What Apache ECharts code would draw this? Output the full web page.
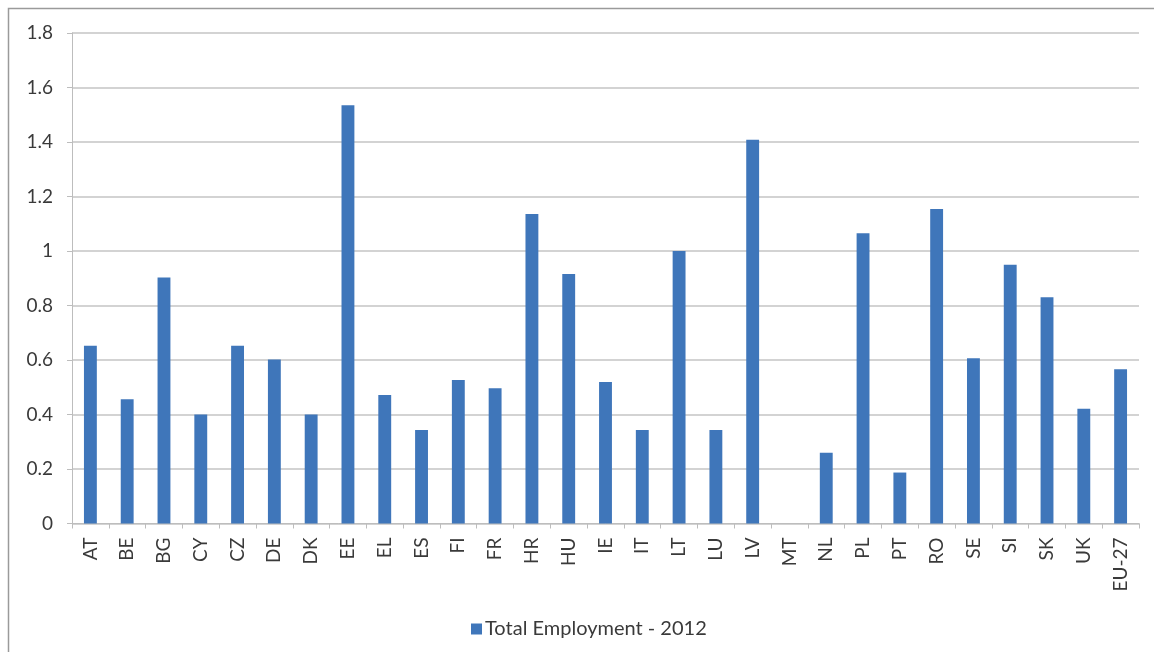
<!DOCTYPE html>
<html>
<head>
<meta charset="utf-8">
<script src="https://cdn.jsdelivr.net/npm/echarts@6/dist/echarts.min.js"></script>
<style>
  html, body { margin: 0; padding: 0; background: #fff; }
  #chart { width: 1154px; height: 652px; }
</style>
</head>
<body>
<div id="chart"></div>
<script>
const categories = ['AT','BE','BG','CY','CZ','DE','DK','EE','EL','ES','FI','FR','HR','HU','IE','IT','LT','LU','LV','MT','NL','PL','PT','RO','SE','SI','SK','UK','EU-27'];
const employment2012 = [0.652,0.456,0.903,0.40,0.652,0.602,0.40,1.535,0.472,0.343,0.527,0.496,1.136,0.916,0.519,0.343,1.0,0.343,1.408,0,0.26,1.065,0.187,1.154,0.606,0.95,0.83,0.421,0.566];
const seriesName = 'Total Employment - 2012';
const yTicks = { min: 0, max: 1.8, interval: 0.2 };

const chart = echarts.init(document.getElementById('chart'), null, { renderer: 'canvas' });
const textColor = '#3a3a3a';
const fontFamily = 'Lato, "Open Sans", sans-serif';

chart.setOption({
  animation: false,
  backgroundColor: '#ffffff',
  graphic: [{
    type: 'rect',
    shape: { x: 8.5, y: 8.5, width: 1170, height: 680 },
    style: { fill: 'none', stroke: '#9a9a9a', lineWidth: 1.5 },
    silent: true
  }],
  grid: { left: 72, right: 15, top: 33, bottom: 128.5, containLabel: false },
  legend: {
    data: [seriesName],
    left: 466,
    top: 614,
    icon: 'rect',
    itemWidth: 11,
    itemHeight: 11,
    itemGap: 6,
    textStyle: { color: textColor, fontSize: 20, fontFamily: fontFamily, padding: [0, 0, 0, -2] }
  },
  xAxis: {
    type: 'category',
    data: categories,
    axisLine: { show: true, lineStyle: { color: '#bdbdbd', width: 1 } },
    axisTick: { show: true, alignWithLabel: false, length: 5, lineStyle: { color: '#bdbdbd' } },
    axisLabel: {
      rotate: 90,
      interval: 0,
      margin: 14,
      color: textColor,
      fontSize: 19,
      fontFamily: fontFamily
    },
    splitLine: { show: false }
  },
  yAxis: {
    type: 'value',
    min: yTicks.min,
    max: yTicks.max,
    interval: yTicks.interval,
    axisLine: { show: true, lineStyle: { color: '#bdbdbd', width: 1 } },
    axisTick: { show: true, length: 5, lineStyle: { color: '#bdbdbd' } },
    axisLabel: {
      margin: 19,
      color: textColor,
      fontSize: 19,
      fontFamily: fontFamily,
      formatter: function (v) { return String(Math.round(v * 10) / 10); }
    },
    splitLine: { show: true, lineStyle: { color: '#c4c4c4', width: 1.5 } }
  },
  series: [{
    name: seriesName,
    type: 'bar',
    data: employment2012,
    barWidth: '35%',
    itemStyle: { color: '#3f76ba' }
  }]
});
</script>
</body>
</html>
